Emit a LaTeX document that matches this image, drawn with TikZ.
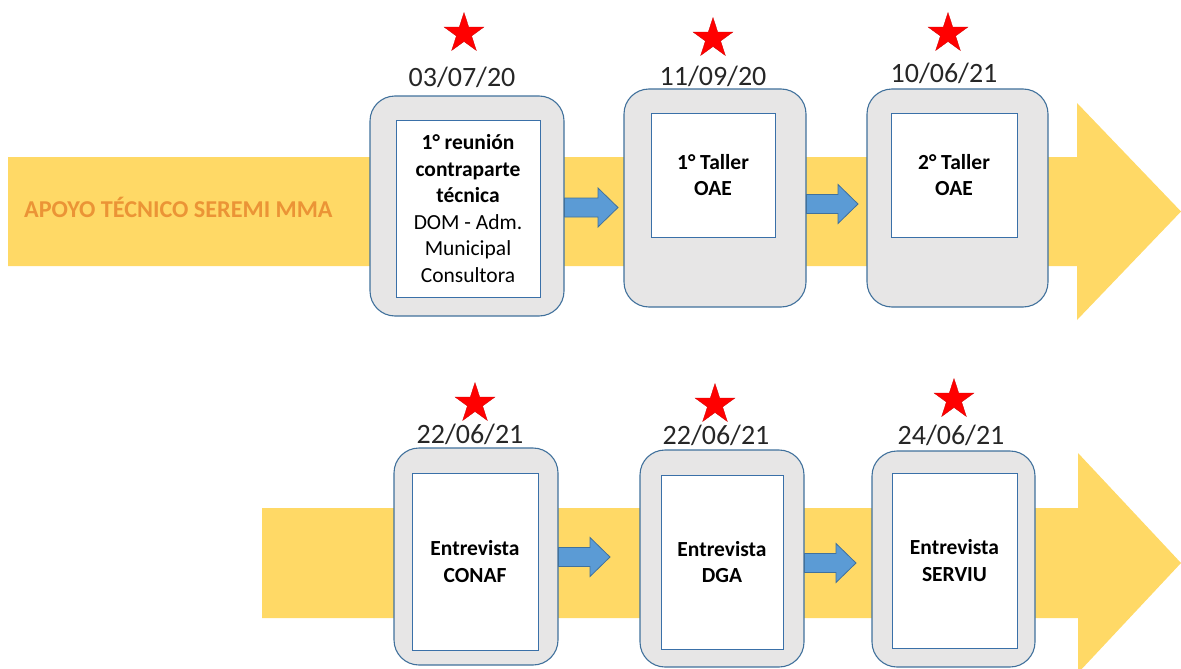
\documentclass[tikz,border=0pt]{standalone}
\usepackage{fontspec}
\setmainfont{Carlito}
\usetikzlibrary{shapes.geometric,calc}
\definecolor{arrowyellow}{HTML}{FFD966}
\definecolor{boxgray}{HTML}{E7E6E6}
\definecolor{boxline}{HTML}{41719C}
\definecolor{innerline}{HTML}{3A70A8}
\definecolor{smallblue}{HTML}{5B9BD5}
\definecolor{labelorange}{HTML}{EB9436}
\definecolor{datecol}{HTML}{262626}
\tikzset{
  outerbox/.style={draw=boxline, line width=1.1pt, fill=boxgray, rounded corners=25pt, inner sep=0pt},
  innerbox/.style={draw=innerline, line width=1pt, fill=white, inner sep=0pt, align=center,
     font=\fontsize{21.5}{26.5}\selectfont, text=black},
  datelbl/.style={anchor=base, font=\fontsize{28}{30}\selectfont, text=datecol, inner sep=0pt},
  redstar/.style={star, star points=5, star point ratio=2.618, fill=red, draw=red!80!black, line width=0.3pt, minimum size=42pt, inner sep=0pt},
  blk/.style={fill=smallblue, draw=boxline, line width=0.8pt, line join=miter},
  bigarrow/.style={fill=arrowyellow}
}
\newcommand{\blkarrow}[2]{%
  \draw[blk] let \p1=(#1), \p2=(#2) in
    (\x1,\y2+9.5pt) -- (\x2-20pt,\y2+9.5pt) -- (\x2-20pt,\y2+19.5pt) -- (\x2,\y2)
    -- (\x2-20pt,\y2-19.5pt) -- (\x2-20pt,\y2-9.5pt) -- (\x1,\y2-9.5pt) -- cycle;}
\begin{document}
\begin{tikzpicture}[x=1pt,y=-1pt]
\useasboundingbox (0,0) rectangle (1181,669);
\clip (0,0) rectangle (1181,669);
% big yellow arrows
\fill[bigarrow] (8,157) -- (1077,157) -- (1077,103) -- (1181,211.5) -- (1077,320) -- (1077,266) -- (8,266) -- cycle;
\fill[bigarrow] (262,508) -- (1078,508) -- (1078,453) -- (1181,563) -- (1078,673) -- (1078,618) -- (262,618) -- cycle;
% label
\node[anchor=base west, inner sep=0pt, font=\bfseries\fontsize{24.2}{28}\selectfont, text=labelorange] (lbl) at (24,217) {APOYO TÉCNICO SEREMI MMA};
% top row boxes
\node[outerbox, minimum width=194pt, minimum height=220pt] (o1) at (467,206) {};
\node[innerbox, minimum width=144pt, minimum height=177pt] (i1) at (468,208.5)
  {\textbf{1° reunión}\\\textbf{contraparte}\\\textbf{técnica}\\DOM - Adm.\\Municipal\\Consultora};
\node[outerbox, minimum width=182pt, minimum height=218pt] (o2) at (715,198) {};
\node[innerbox, minimum width=124pt, minimum height=124pt] (i2) at (713,175) {\textbf{1° Taller}\\\textbf{OAE}};
\node[outerbox, minimum width=181pt, minimum height=218pt] (o3) at (957.5,198) {};
\node[innerbox, minimum width=126pt, minimum height=124pt] (i3) at (954,175) {\textbf{2° Taller}\\\textbf{OAE}};
% bottom row boxes
\node[outerbox, minimum width=164pt, minimum height=217pt] (o4) at (476,556.5) {};
\node[innerbox, minimum width=126pt, minimum height=177pt] (i4) at (475,561.5) {\textbf{Entrevista}\\\textbf{CONAF}};
\node[outerbox, minimum width=164pt, minimum height=217pt] (o5) at (722,558.5) {};
\node[innerbox, minimum width=122pt, minimum height=174pt] (i5) at (722,562) {\textbf{Entrevista}\\\textbf{DGA}};
\node[outerbox, minimum width=163pt, minimum height=216pt] (o6) at (953.5,559) {};
\node[innerbox, minimum width=125pt, minimum height=175pt] (i6) at (954.5,560.5) {\textbf{Entrevista}\\\textbf{SERVIU}};
% stars
\node[redstar] (s1) at (464,33.5) {};
\node[redstar] (s2) at (713,38.5) {};
\node[redstar] (s3) at (948,33.5) {};
\node[redstar] (s4) at (475,403.5) {};
\node[redstar] (s5) at (715,404.5) {};
\node[redstar] (s6) at (954,399.5) {};
% dates
\node[datelbl] (d1) at (462,86) {03/07/20};
\node[datelbl] (d2) at (713,85) {11/09/20};
\node[datelbl] (d3) at (944,82) {10/06/21};
\node[datelbl] (d4) at (470,443) {22/06/21};
\node[datelbl] (d5) at (716,444) {22/06/21};
\node[datelbl] (d6) at (951,444) {24/06/21};
% small blue arrows
\coordinate (t1) at (618,207.5);
\coordinate (a1) at (o1.east |- t1);
\blkarrow{a1}{t1}
\coordinate (t2) at (858,204);
\coordinate (a2) at (o2.east |- t2);
\blkarrow{a2}{t2}
\coordinate (t3) at (610,557);
\coordinate (a3) at (o4.east |- t3);
\blkarrow{a3}{t3}
\coordinate (t4) at (856,563);
\coordinate (a4) at (o5.east |- t4);
\blkarrow{a4}{t4}
\end{tikzpicture}
\end{document}
